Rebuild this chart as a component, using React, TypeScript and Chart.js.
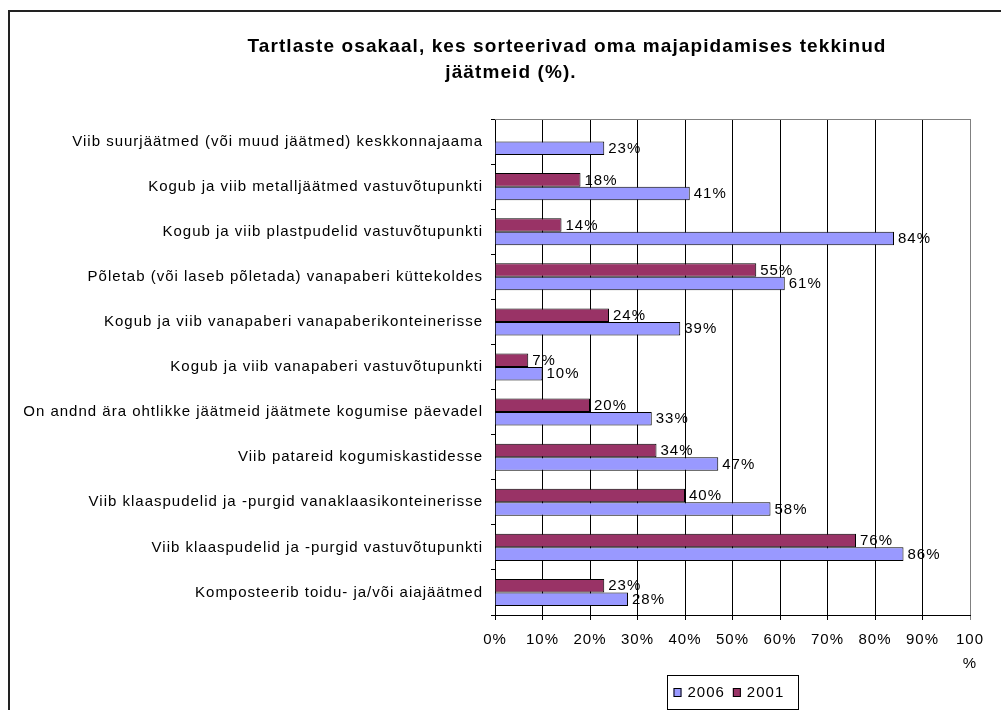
import React, { useEffect, useRef } from 'react';
import { Chart, registerables } from 'chart.js';

Chart.register(...registerables);

const categories = [
  'Viib suurjäätmed (või muud jäätmed) keskkonnajaama',
  'Kogub ja viib metalljäätmed vastuvõtupunkti',
  'Kogub ja viib plastpudelid vastuvõtupunkti',
  'Põletab (või laseb põletada) vanapaberi küttekoldes',
  'Kogub ja viib vanapaberi vanapaberikonteinerisse',
  'Kogub ja viib vanapaberi vastuvõtupunkti',
  'On andnd ära ohtlikke jäätmeid jäätmete kogumise päevadel',
  'Viib patareid kogumiskastidesse',
  'Viib klaaspudelid ja -purgid vanaklaasikonteinerisse',
  'Viib klaaspudelid ja -purgid vastuvõtupunkti',
  'Komposteerib toidu- ja/või aiajäätmed',
];
const values2001: (number | null)[] = [null, 18, 14, 55, 24, 7, 20, 34, 40, 76, 23];
const values2006: (number | null)[] = [23, 41, 84, 61, 39, 10, 33, 47, 58, 86, 28];
const seriesLabels = ['2001', '2006'];
const seriesColors = ['#993366', '#9999FF'];
const titleLines = ['Tartlaste osakaal, kes sorteerivad oma majapidamises tekkinud', 'jäätmeid (%).'];
const xMin = 0;
const xMax = 100;
const xStep = 10;

const FAMILY = 'Arial, "Liberation Sans", sans-serif';
const SPACING = '1px';

const spacingPlugin = {
  id: 'spacing',
  beforeUpdate(chart: any) {
    chart.ctx.letterSpacing = SPACING;
  },
  beforeDraw(chart: any) {
    const ctx = chart.ctx;
    ctx.letterSpacing = SPACING;
    ctx.save();
    ctx.fillStyle = '#ffffff';
    ctx.fillRect(0, 0, chart.width, chart.height);
    // outer frame
    ctx.strokeStyle = '#222222';
    ctx.lineWidth = 2;
    ctx.strokeRect(9, 11, 1200, 1000);
    // title
    ctx.letterSpacing = '1.1px';
    ctx.fillStyle = '#000000';
    ctx.font = `bold 19px ${FAMILY}`;
    ctx.textAlign = 'center';
    ctx.textBaseline = 'alphabetic';
    ctx.fillText(titleLines[0], 567, 52);
    ctx.fillText(titleLines[1], 511, 78);
    ctx.restore();
  },
  afterDraw(chart: any) {
    const ctx = chart.ctx;
    const a = chart.chartArea;
    ctx.save();
    // plot area top border (gray)
    ctx.strokeStyle = '#808080';
    ctx.lineWidth = 1;
    ctx.beginPath();
    ctx.moveTo(a.left, Math.round(a.top) + 0.5);
    ctx.lineTo(a.right, Math.round(a.top) + 0.5);
    ctx.stroke();

    // data labels
    ctx.font = `15px ${FAMILY}`;
    ctx.fillStyle = '#000000';
    ctx.textAlign = 'left';
    ctx.textBaseline = 'middle';
    chart.data.datasets.forEach((ds: any, di: number) => {
      const meta = chart.getDatasetMeta(di);
      meta.data.forEach((bar: any, i: number) => {
        const v = ds.data[i];
        if (v === null || v === undefined) return;
        ctx.fillText(`${v}%`, bar.x + 4, bar.y + 0.5);
      });
    });

    // legend with frame
    const cx = (a.left + a.right) / 2;
    const boxW = 131;
    const boxH = 34;
    const bx = Math.round(cx - boxW / 2) + 0.5;
    const by = 675.5;
    ctx.strokeStyle = '#000000';
    ctx.lineWidth = 1;
    ctx.strokeRect(bx, by, boxW, boxH);
    const order = chart.data.datasets.map((_: any, i: number) => i).reverse();
    let x = bx + 6;
    const cy = by + boxH / 2;
    order.forEach((di: number) => {
      const ds = chart.data.datasets[di];
      ctx.fillStyle = ds.backgroundColor;
      ctx.fillRect(x, cy - 4.5, 8, 9);
      ctx.strokeStyle = '#000000';
      ctx.strokeRect(x + 0.5, cy - 4, 7, 8);
      ctx.fillStyle = '#000000';
      ctx.textAlign = 'left';
      ctx.textBaseline = 'middle';
      ctx.fillText(ds.label, x + 14, cy + 0.5);
      x += 14 + ctx.measureText(ds.label).width + 8;
    });
    ctx.restore();
  },
};

export default function App() {
  const ref = useRef<HTMLCanvasElement | null>(null);

  useEffect(() => {
    if (!ref.current) return;
    const chart = new Chart(ref.current, {
      type: 'bar',
      data: {
        labels: categories,
        datasets: [
          {
            label: seriesLabels[0],
            data: values2001,
            backgroundColor: seriesColors[0],
            borderColor: '#000000',
            borderWidth: 1,
            categoryPercentage: 0.6,
            barPercentage: 1,
          },
          {
            label: seriesLabels[1],
            data: values2006,
            backgroundColor: seriesColors[1],
            borderColor: '#000000',
            borderWidth: 1,
            categoryPercentage: 0.6,
            barPercentage: 1,
          },
        ],
      },
      options: {
        indexAxis: 'y',
        responsive: false,
        animation: false,
        devicePixelRatio: 1,
        layout: { padding: { left: 0, top: 119, right: 31, bottom: 0 } },
        plugins: {
          legend: { display: false },
          title: { display: false },
          tooltip: { enabled: false },
        },
        scales: {
          x: {
            type: 'linear',
            min: xMin,
            max: xMax,
            afterFit: (scale: any) => {
              scale.height = 95;
            },
            ticks: {
              stepSize: xStep,
              color: '#000000',
              padding: 8,
              maxRotation: 0,
              autoSkip: false,
              font: { family: FAMILY, size: 15, lineHeight: 1.6 },
              callback: (v: any) => (Number(v) === xMax ? [`${v}`, '%'] : `${v}%`),
            },
            grid: {
              color: (c: any) => (c.tick && c.tick.value === xMax ? '#808080' : '#000000'),
              lineWidth: 1,
              tickLength: 5,
              drawTicks: true,
            },
            border: { color: '#000000', width: 1 },
          },
          y: {
            type: 'category',
            afterFit: (scale: any) => {
              scale.width = 495;
            },
            ticks: {
              color: '#000000',
              padding: 8,
              autoSkip: false,
              font: { family: FAMILY, size: 15 },
            },
            grid: {
              drawOnChartArea: false,
              drawTicks: true,
              tickLength: 4,
              color: '#000000',
            },
            border: { color: '#000000', width: 1 },
          },
        },
      },
      plugins: [spacingPlugin],
    } as any);
    return () => chart.destroy();
  }, []);

  return (
    <div style={{ position: 'absolute', left: 0, top: 0, width: 1001, height: 710 }}>
      <canvas ref={ref} width={1001} height={710} style={{ display: 'block' }} />
    </div>
  );
}
